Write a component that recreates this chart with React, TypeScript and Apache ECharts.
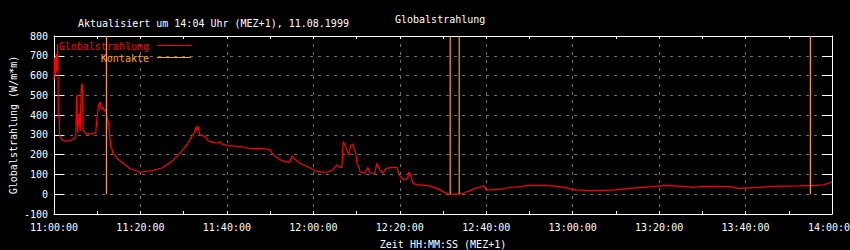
import React, { useEffect, useRef } from "react";
import * as echarts from "echarts";

const radTimes = [
  "11:00:00", "11:00:10", "11:00:20", "11:00:30", "11:00:40", "11:00:50", "11:00:56", "11:01:00",
  "11:01:12", "11:01:19", "11:01:33", "11:02:01", "11:02:43", "11:03:38", "11:04:34", "11:05:01",
  "11:05:15", "11:05:29", "11:05:50", "11:06:04", "11:06:18", "11:06:32", "11:06:46", "11:07:20",
  "11:08:44", "11:09:39", "11:10:00", "11:10:21", "11:10:41", "11:10:56", "11:11:16", "11:11:37",
  "11:11:58", "11:12:19", "11:12:40", "11:12:53", "11:13:08", "11:13:22", "11:13:35", "11:14:03",
  "11:14:45", "11:15:54", "11:17:31", "11:19:50", "11:22:51", "11:25:10", "11:27:29", "11:29:06",
  "11:30:43", "11:32:07", "11:32:34", "11:32:48", "11:33:02", "11:33:16", "11:33:29", "11:33:43",
  "11:34:25", "11:35:07", "11:35:35", "11:36:44", "11:37:53", "11:38:22", "11:39:03", "11:40:40",
  "11:43:41", "11:45:18", "11:47:09", "11:48:46", "11:49:56", "11:50:37", "11:52:14", "11:53:24",
  "11:54:34", "11:55:01", "11:55:43", "11:56:53", "11:59:11", "12:00:49", "12:03:08", "12:04:31",
  "12:05:26", "12:06:08", "12:06:36", "12:06:56", "12:07:17", "12:07:45", "12:08:13", "12:08:41",
  "12:09:08", "12:09:29", "12:09:50", "12:10:04", "12:10:32", "12:10:46", "12:11:55", "12:12:37",
  "12:13:05", "12:14:14", "12:14:42", "12:15:23", "12:16:05", "12:16:47", "12:18:24", "12:19:20",
  "12:20:01", "12:20:57", "12:21:52", "12:22:06", "12:22:34", "12:23:02", "12:23:58", "12:24:39",
  "12:26:58", "12:29:17", "12:30:26", "12:31:36", "12:33:41", "12:34:37", "12:36:14", "12:37:23",
  "12:38:32", "12:39:28", "12:39:56", "12:40:52", "12:43:10", "12:45:29", "12:47:48", "12:50:07",
  "12:53:35", "12:57:04", "13:00:32", "13:04:00", "13:06:19", "13:09:47", "13:13:16", "13:18:22",
  "13:21:22", "13:26:28", "13:27:51", "13:29:56", "13:36:25", "13:38:16", "13:43:22", "13:46:08",
  "13:52:37", "13:56:05", "13:58:10", "13:59:34", "14:00:00",
];

const radValues = [
  580, 690, 600, 710, 620, 760, 600, 390,
  385, 300, 285, 272, 268, 270, 280, 290,
  500, 310, 410, 320, 540, 560, 320, 305,
  305, 310, 400, 450, 466, 430, 440, 420,
  430, 385, 350, 300, 240, 234, 208, 198,
  178, 158, 130, 111, 121, 134, 170, 207,
  249, 300, 316, 341, 320, 345, 330, 300,
  296, 288, 271, 261, 259, 266, 252, 244,
  240, 230, 232, 230, 224, 202, 175, 165,
  161, 195, 177, 157, 134, 114, 111, 123,
  148, 136, 136, 266, 249, 224, 198, 249,
  254, 224, 207, 157, 139, 114, 106, 136,
  106, 106, 157, 123, 106, 131, 136, 135,
  92, 72, 81, 114, 92, 56, 47, 47,
  42, 22, 8, 0, 0, 5, 18, 30,
  35, 43, 22, 22, 25, 34, 38, 45,
  45, 38, 22, 18, 18, 22, 30, 38,
  45, 38, 34, 40, 38, 30, 35, 40,
  42, 45, 48, 59, 62,
];

const contactTimes = ["11:12:08", "12:31:40", "12:33:45", "13:55:00"];

const xMin = "11:00:00";
const xMax = "14:00:00";
const xStepSeconds = 1200;
const yMin = -100;
const yMax = 800;
const yStep = 100;

const titleText = "Globalstrahlung";
const updatedText = "Aktualisiert um 14:04 Uhr (MEZ+1), 11.08.1999";
const seriesNames = ["Globalstrahlung", "Kontakte"];
const xName = "Zeit HH:MM:SS (MEZ+1)";
const yName = "Globalstrahlung (W/m*m)";

const toSec = (t: string) => {
  const [h, m, s] = t.split(":").map(Number);
  return h * 3600 + m * 60 + s;
};
const pad = (n: number) => String(n).padStart(2, "0");
const fmt = (v: number) => {
  const h = Math.floor(v / 3600);
  const m = Math.floor((v % 3600) / 60);
  const s = Math.round(v % 60);
  return `${pad(h)}:${pad(m)}:${pad(s)}`;
};

const FONT = "DejaVu Sans Mono";
const RED = "#ff0000";
const ORANGE = "#ffa500";
const GRID = "#6e6e6e";

export default function App() {
  const ref = useRef<HTMLDivElement>(null);
  useEffect(() => {
    if (!ref.current) return;
    const chart = echarts.init(ref.current, null, { renderer: "svg" });
    const radData = radTimes.map((t, i) => [toSec(t), radValues[i]]);
    const contactData: any[] = [];
    contactTimes.forEach((t) => {
      const s = toSec(t);
      contactData.push([s, 0], [s, yMax], [s, "-"]);
    });
    const common = {
      min: toSec(xMin),
      max: toSec(xMax),
      interval: xStepSeconds,
    };
    chart.setOption({
      animation: false,
      backgroundColor: "#000000",
      grid: { left: 54, right: 18, top: 36, bottom: 36, containLabel: false, outerBoundsMode: "none" },
      xAxis: [
        {
          type: "value",
          ...common,
          position: "bottom",
          name: xName,
          nameLocation: "middle",
          nameGap: 25,
          nameMoveOverlap: false,
          nameTextStyle: { color: "#ffffff", fontFamily: FONT, fontSize: 10 },
          axisLine: { show: true, onZero: false, lineStyle: { color: "#ffffff", width: 1 } },
          axisTick: { show: true, inside: true, length: 3, lineStyle: { color: "#ffffff" } },
          minorTick: { show: true, splitNumber: 2, length: 3, lineStyle: { color: "#ffffff" } },
          splitLine: { show: true, lineStyle: { color: GRID, type: [3, 5], width: 1 } },
          axisLabel: {
            color: "#ffffff",
            fontFamily: FONT,
            fontSize: 10,
            margin: 8,
            showMinLabel: true,
            showMaxLabel: true,
            hideOverlap: false,
            formatter: (v: number) => fmt(v),
          },
        },
        {
          type: "value",
          ...common,
          position: "top",
          axisLine: { show: true, onZero: false, lineStyle: { color: "#ffffff", width: 1 } },
          axisTick: { show: true, inside: true, length: 3, lineStyle: { color: "#ffffff" } },
          minorTick: { show: true, splitNumber: 2, length: 3, lineStyle: { color: "#ffffff" } },
          splitLine: { show: false },
          axisLabel: { show: false },
        },
      ],
      yAxis: [
        {
          type: "value",
          min: yMin,
          max: yMax,
          interval: yStep,
          position: "left",
          name: yName,
          nameLocation: "middle",
          nameGap: 36,
          nameMoveOverlap: false,
          nameTextStyle: { color: "#ffffff", fontFamily: FONT, fontSize: 10 },
          axisLine: { show: true, onZero: false, lineStyle: { color: "#ffffff", width: 1 } },
          axisTick: { show: true, inside: true, length: 10, lineStyle: { color: "#ffffff" } },
          splitLine: { show: true, lineStyle: { color: GRID, type: [3, 5], width: 1 } },
          axisLabel: { color: "#ffffff", fontFamily: FONT, fontSize: 10, margin: 6 },
        },
        {
          type: "value",
          min: yMin,
          max: yMax,
          interval: yStep,
          position: "right",
          axisLine: { show: true, onZero: false, lineStyle: { color: "#ffffff", width: 1 } },
          axisTick: { show: true, inside: true, length: 10, lineStyle: { color: "#ffffff" } },
          splitLine: { show: false },
          axisLabel: { show: false },
        },
      ],
      series: [
        {
          name: seriesNames[0],
          type: "line",
          xAxisIndex: 0,
          yAxisIndex: 0,
          data: radData,
          showSymbol: false,
          symbol: "none",
          lineStyle: { color: RED, width: 1.2 },
          itemStyle: { color: RED },
          z: 3,
        },
        {
          name: seriesNames[1],
          type: "line",
          xAxisIndex: 0,
          yAxisIndex: 0,
          data: contactData,
          connectNulls: false,
          showSymbol: false,
          symbol: "none",
          lineStyle: { color: ORANGE, width: 1.2 },
          itemStyle: { color: ORANGE },
          z: 4,
        },
      ],
      graphic: [
        {
          type: "text",
          x: 78,
          y: 23,
          style: { text: updatedText, fill: "#ffffff", font: `10px "${FONT}"`, textVerticalAlign: "middle" },
        },
        {
          type: "text",
          x: 395,
          y: 19,
          style: { text: titleText, fill: "#ffffff", font: `10px "${FONT}"`, textVerticalAlign: "middle" },
        },
        {
          type: "text",
          x: 149,
          y: 46,
          z: 10,
          style: { text: seriesNames[0], fill: RED, font: `10px "${FONT}"`, textAlign: "right", textVerticalAlign: "middle" },
        },
        {
          type: "line",
          z: 10,
          shape: { x1: 157, y1: 45.5, x2: 191, y2: 45.5 },
          style: { stroke: RED, lineWidth: 1 },
        },
        {
          type: "text",
          x: 149,
          y: 58,
          z: 10,
          style: { text: seriesNames[1], fill: ORANGE, font: `10px "${FONT}"`, textAlign: "right", textVerticalAlign: "middle" },
        },
        {
          type: "line",
          z: 10,
          shape: { x1: 157, y1: 57.5, x2: 191, y2: 57.5 },
          style: { stroke: ORANGE, lineWidth: 1 },
        },
      ],
    });
    return () => chart.dispose();
  }, []);
  return <div ref={ref} style={{ width: 850, height: 250, position: "absolute", left: 0, top: 0 }} />;
}
